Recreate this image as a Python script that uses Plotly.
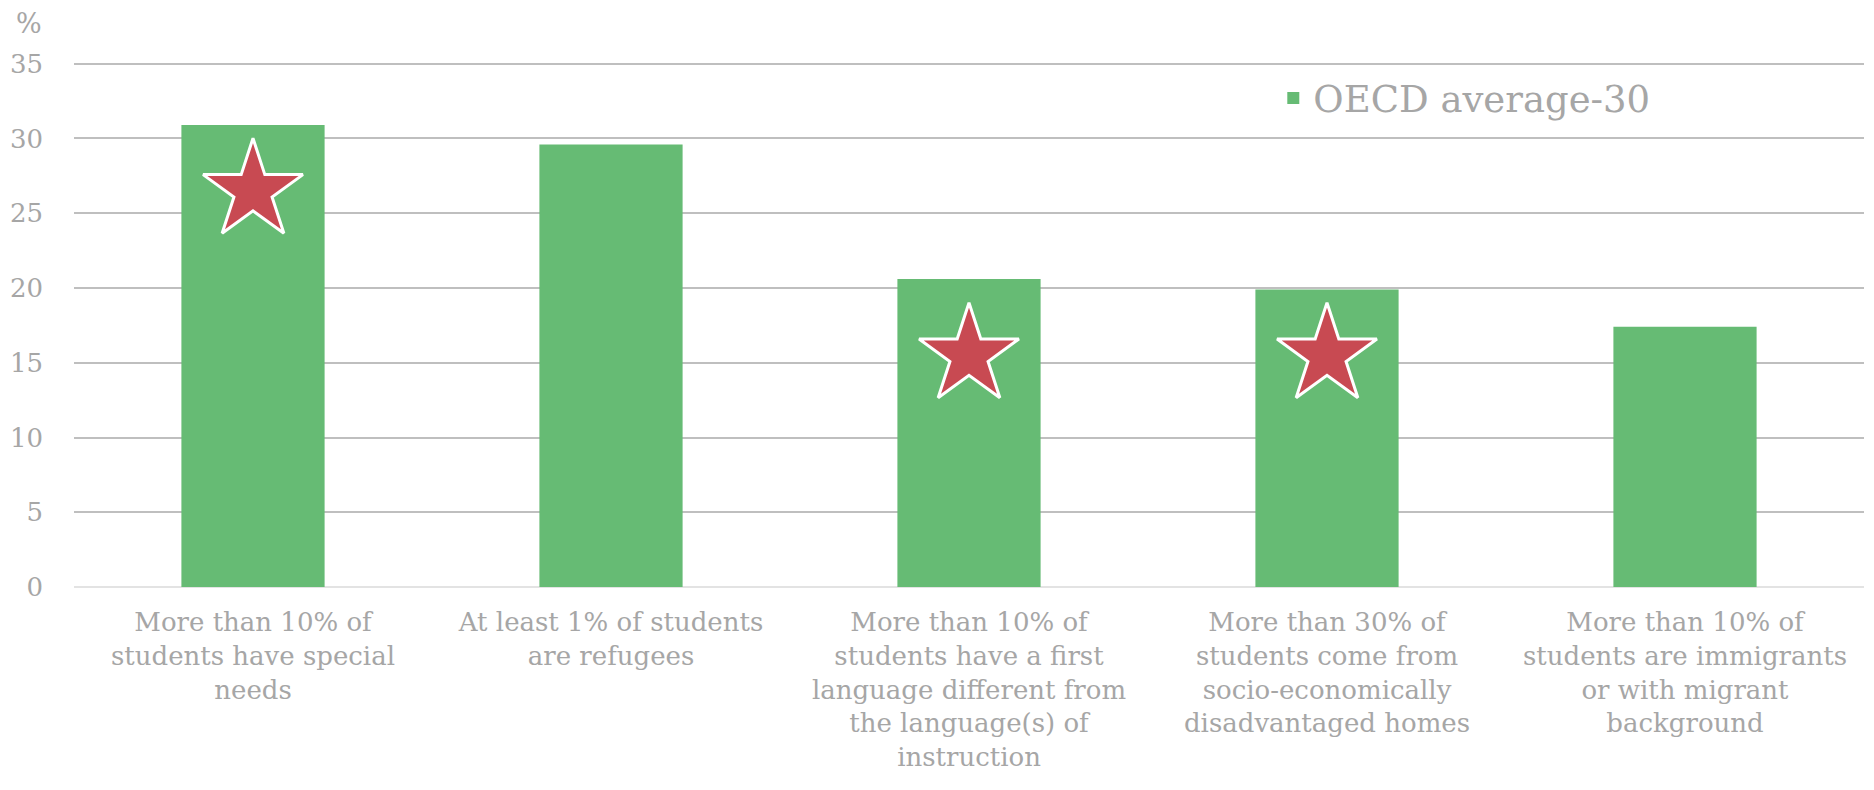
import plotly.graph_objects as go

categories = [
    "More than 10% of<br>students have special<br>needs",
    "At least 1% of students<br>are refugees",
    "More than 10% of<br>students have a first<br>language different from<br>the language(s) of<br>instruction",
    "More than 30% of<br>students come from<br>socio-economically<br>disadvantaged homes",
    "More than 10% of<br>students are immigrants<br>or with migrant<br>background",
]
oecd_values = [30.9, 29.6, 20.6, 19.9, 17.4]
star_categories = [categories[0], categories[2], categories[3]]
star_values = [26.5, 15.5, 15.5]

FONT = "DejaVu Serif"
GRAY = "#a6a6a6"

fig = go.Figure()
fig.add_trace(go.Bar(
    x=categories, y=oecd_values, name="OECD average-30",
    marker=dict(color="#66bb74", line=dict(width=0)),
))
fig.add_trace(go.Scatter(
    x=star_categories, y=star_values, mode="markers", showlegend=False,
    marker=dict(symbol="star", size=75, color="#c84a52",
                line=dict(color="white", width=3)),
    hoverinfo="skip",
))

fig.update_layout(
    width=1874, height=790,
    margin=dict(l=74, r=10, t=60, b=203),
    plot_bgcolor="white", paper_bgcolor="white",
    bargap=0.6,
    font=dict(family=FONT, color=GRAY, size=26),
    legend=dict(x=0.67, y=0.927, xanchor="left", yanchor="middle",
                font=dict(size=37, color=GRAY, family=FONT),
                bgcolor="rgba(0,0,0,0)", itemwidth=30),
    xaxis=dict(showgrid=False, showline=False, ticks="", ticklabelstandoff=17,
               tickfont=dict(size=26, color=GRAY, family=FONT), tickangle=0),
    yaxis=dict(range=[0, 35.25], tickvals=[0, 5, 10, 15, 20, 25, 30, 35],
               showgrid=True, gridcolor="#bfbfbf",
               gridwidth=2, zeroline=True, zerolinecolor="#e3e3e3", zerolinewidth=2,
               showline=False, ticks="", ticklabelstandoff=30,
               tickfont=dict(size=26, color=GRAY, family=FONT)),
    annotations=[dict(text="%", xref="paper", yref="paper", x=-0.025, y=1.07,
                      xanchor="center", yanchor="middle", showarrow=False,
                      font=dict(size=27, color=GRAY, family=FONT))],
)

fig.write_html("out.html")
